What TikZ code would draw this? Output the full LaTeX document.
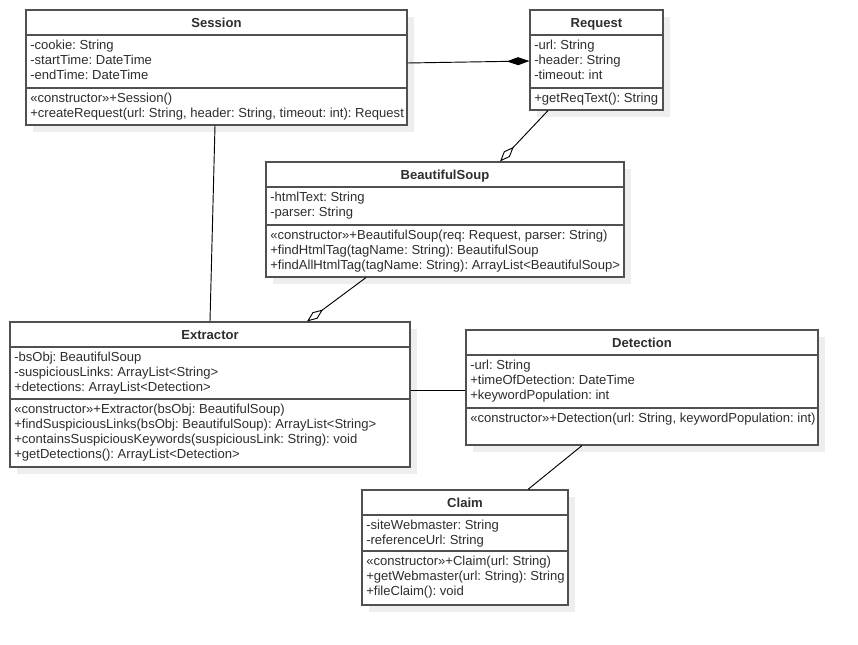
\documentclass[tikz,border=0pt]{standalone}
\usepackage{fontspec}
\setmainfont{Liberation Sans}
\usetikzlibrary{arrows.meta,fit}
\frenchspacing

\definecolor{framegray}{HTML}{505050}
\definecolor{shadowgray}{HTML}{EEEEEE}
\definecolor{inkgray}{HTML}{2E2E2E}

\tikzset{
  umlframe/.style={draw=framegray, line width=0.85pt, fill=white, inner sep=0pt, rectangle},
  umlrule/.style={draw=framegray, line width=0.85pt},
  umlshadow/.style={fill=shadowgray},
  umltitle/.style={anchor=base, inner sep=0pt, text=inkgray, font=\fontsize{9.8}{11.25}\selectfont\bfseries},
  umlrow/.style={anchor=base west, inner sep=0pt, text=inkgray, font=\fontsize{9.8}{11.25}\selectfont},
  assoc/.style={draw=black, line width=0.7pt},
  composition/.style={assoc, -{Diamond[length=17pt,width=6pt]}},
  aggregation/.style={assoc, -{Diamond[open,length=15pt,width=6pt]}},
}

% class box: name, x1, y1, x2, y2, first rule, second rule, title
\newcommand\umlclass[8]{%
  \fill[umlshadow] ({#2+7},{#3+7}) rectangle ({#4+7},{#5+7});
  \node[umlframe, fit={(#2,#3)(#4,#5)}] (#1) {};
  \draw[umlrule] (#2,#6) -- (#4,#6);
  \draw[umlrule] (#2,#7) -- (#4,#7);
  \node[umltitle] (#1-title) at ({(#2+#4)/2},{#3+17.5}) {#8};
}
% rows of a compartment: name prefix, x, first baseline, list of rows
\newcommand\umlrows[4]{%
  \foreach \row [count=\k] in {#4} {
    \node[umlrow] (#1-\k) at ({#2},{#3+15*(\k-1)}) {\row};
  }
}

\begin{document}
\begin{tikzpicture}[x=0.75pt,y=-0.75pt]
  \fill[white] (0,0) rectangle (858,645);
  \useasboundingbox (0,0) rectangle (858,645);

  % Session
  \umlclass{sess}{26}{10}{407}{125}{35}{88}{Session}
  \umlrows{sess-a}{30}{49.5}{{-cookie: String},{-startTime: DateTime},{-endTime: DateTime}}
  \umlrows{sess-m}{30}{102.5}{{«constructor»+Session()},{+createRequest(url: String, header: String, timeout: int): Request}}

  % Request
  \umlclass{req}{530}{10}{663}{110}{35}{88}{Request}
  \umlrows{req-a}{534}{49.5}{{-url: String},{-header: String},{-timeout: int}}
  \umlrows{req-m}{534}{102.5}{{+getReqText(): String}}

  % BeautifulSoup
  \umlclass{bs}{266}{162}{624}{277}{187}{225}{BeautifulSoup}
  \umlrows{bs-a}{270}{201.5}{{-htmlText: String},{-parser: String}}
  \umlrows{bs-m}{270}{239.5}{{«constructor»+BeautifulSoup(req: Request, parser: String)},{+findHtmlTag(tagName: String): BeautifulSoup},{+findAllHtmlTag(tagName: String): ArrayList<BeautifulSoup>}}

  % Extractor
  \umlclass{ext}{10}{322}{410}{467}{347}{399}{Extractor}
  \umlrows{ext-a}{14}{361.5}{{-bsObj: BeautifulSoup},{-suspiciousLinks: ArrayList<String>},{+detections: ArrayList<Detection>}}
  \umlrows{ext-m}{14}{413.5}{{«constructor»+Extractor(bsObj: BeautifulSoup)},{+findSuspiciousLinks(bsObj: BeautifulSoup): ArrayList<String>},{+containsSuspiciousKeywords(suspiciousLink: String): void},{+getDetections(): ArrayList<Detection>}}

  % Detection
  \umlclass{det}{466}{330}{818}{445}{355}{408}{Detection}
  \umlrows{det-a}{470}{369.5}{{-url: String},{+timeOfDetection: DateTime},{+keywordPopulation: int}}
  \umlrows{det-m}{470}{422.5}{{«constructor»+Detection(url: String, keywordPopulation: int)}}

  % Claim
  \umlclass{claim}{362}{490}{568}{605}{515}{551}{Claim}
  \umlrows{claim-a}{366}{529.5}{{-siteWebmaster: String},{-referenceUrl: String}}
  \umlrows{claim-m}{366}{565.5}{{«constructor»+Claim(url: String)},{+getWebmaster(url: String): String},{+fileClaim(): void}}

  % relations
  \draw[composition] (sess.east |- 0,63) -- (req.west |- 0,61);
  \draw[aggregation] (req.south -| 548,0) -- (bs.north -| 500,0);
  \draw[aggregation] (bs.south -| 366,0) -- (ext.north -| 307,0);
  \draw[assoc] (sess.south -| 215,0) -- (ext.north -| 210,0);
  \draw[assoc] (ext.east |- 0,390) -- (det.west |- 0,390);
  \draw[assoc] (det.south -| 582,0) -- (claim.north -| 528,0);
\end{tikzpicture}
\end{document}
